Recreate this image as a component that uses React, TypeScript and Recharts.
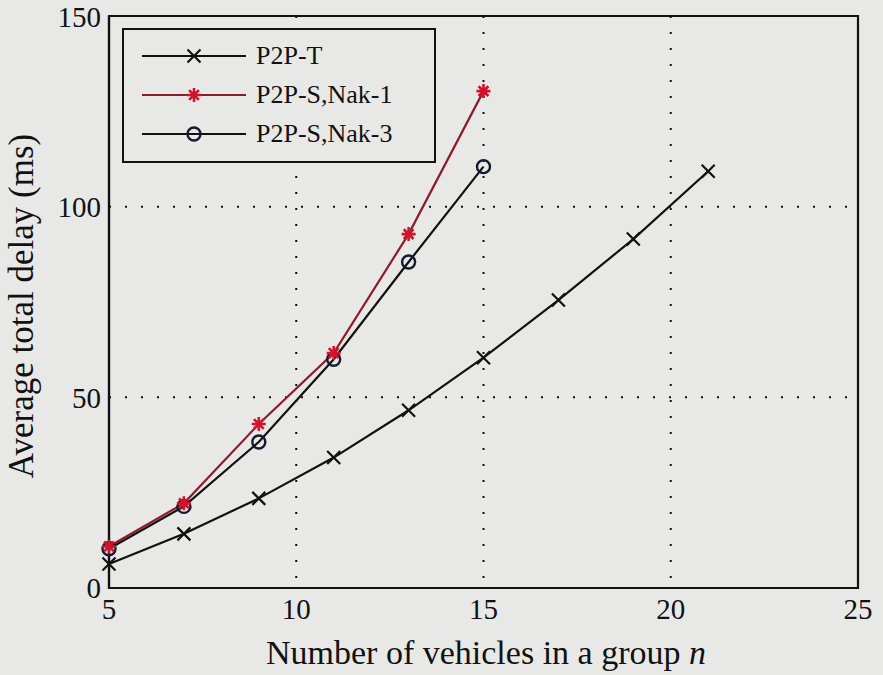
import {
  LineChart,
  Line,
  XAxis,
  YAxis,
  CartesianGrid,
  ReferenceArea,
} from 'recharts';

const groupSizes = [5, 7, 9, 11, 13, 15, 17, 19, 21];
const p2pT = [6.3, 14.2, 23.5, 34.2, 46.6, 60.4, 75.5, 91.5, 109.3];
const p2pSNak1 = [10.9, 22.2, 43.0, 61.6, 92.8, 130.3];
const p2pSNak3 = [10.3, 21.4, 38.3, 60.0, 85.5, 110.5];
const xTicks = [5, 10, 15, 20, 25];
const yTicks = [0, 50, 100, 150];

const data = groupSizes.map((n, i) => ({
  n,
  t: p2pT[i],
  nak1: p2pSNak1[i],
  nak3: p2pSNak3[i],
}));

const BG = '#e8e9e7';
const INK = '#111';
const NAK1_LINE = '#8e1b2c';
const NAK1_MARK = '#d0142c';

const CrossDot = (props: any) => {
  const { cx, cy } = props;
  if (cx == null || cy == null || props.value == null) return null;
  const s = 6.5;
  return (
    <path
      d={`M${cx - s},${cy - s}L${cx + s},${cy + s}M${cx - s},${cy + s}L${cx + s},${cy - s}`}
      stroke={INK}
      strokeWidth={2.2}
    />
  );
};

const StarDot = (props: any) => {
  const { cx, cy } = props;
  if (cx == null || cy == null || props.value == null) return null;
  const s = 7;
  const d = s * 0.7;
  return (
    <path
      d={`M${cx - s},${cy}L${cx + s},${cy}M${cx},${cy - s}L${cx},${cy + s}M${cx - d},${cy - d}L${cx + d},${cy + d}M${cx - d},${cy + d}L${cx + d},${cy - d}`}
      stroke={NAK1_MARK}
      strokeWidth={2.6}
    />
  );
};

const CircleDot = (props: any) => {
  const { cx, cy } = props;
  if (cx == null || cy == null || props.value == null) return null;
  return <circle cx={cx} cy={cy} r={6.5} fill="none" stroke="#151a2e" strokeWidth={2.4} />;
};

const legendItems = [
  { name: 'P2P-T', color: INK, Marker: CrossDot },
  { name: 'P2P-S,Nak-1', color: NAK1_LINE, Marker: StarDot },
  { name: 'P2P-S,Nak-3', color: INK, Marker: CircleDot },
];

// legend drawn as an overlay so it doesn't shrink the plot area
const LegendBox = () => (
  <div
    style={{
      position: 'absolute',
      left: 122,
      top: 28,
      width: 314,
      height: 135,
      border: '2px solid #111',
      boxSizing: 'border-box',
      background: BG,
      paddingTop: 6,
    }}
  >
    {legendItems.map(({ name, color, Marker }) => (
      <div key={name} style={{ display: 'flex', alignItems: 'center', height: 39 }}>
        <svg width={132} height={30}>
          <line x1={18} y1={15} x2={122} y2={15} stroke={color} strokeWidth={2.2} />
          <Marker cx={70} cy={15} value={1} />
        </svg>
        <span style={{ fontFamily: 'Liberation Serif', fontSize: 26, color: INK }}>{name}</span>
      </div>
    ))}
  </div>
);

const XLabel = () => (
  <text x={486} y={664} textAnchor="middle" fontFamily="Liberation Serif" fontSize={34} fill={INK}>
    Number of vehicles in a group <tspan fontStyle="italic">n</tspan>
  </text>
);

const YLabel = () => (
  <text
    x={0}
    y={0}
    transform="translate(33, 306) rotate(-90)"
    textAnchor="middle"
    fontFamily="Liberation Serif"
    fontSize={35}
    fill={INK}
  >
    Average total delay (ms)
  </text>
);

export default function App() {
  return (
    <div
      style={{
        position: 'absolute',
        left: 0,
        top: 0,
        width: 883,
        height: 675,
        background: BG,
        fontFamily: 'Liberation Serif',
      }}
    >
      <LineChart
        width={883}
        height={675}
        data={data}
        margin={{ top: 16, right: 25, left: 0, bottom: 0 }}
      >
        <CartesianGrid stroke={INK} strokeWidth={2} strokeDasharray="2 14" />
        <XAxis
          dataKey="n"
          type="number"
          domain={[5, 25]}
          ticks={xTicks}
          height={87}
          axisLine={{ stroke: INK, strokeWidth: 2.2 }}
          tickLine={false}
          tickMargin={4}
          tick={{ fontFamily: 'Liberation Serif', fontSize: 29, fill: INK }}
          label={<XLabel />}
        />
        <YAxis
          type="number"
          domain={[0, 150]}
          ticks={yTicks}
          width={109}
          axisLine={{ stroke: INK, strokeWidth: 2.2 }}
          tickLine={false}
          tickMargin={2}
          tick={{ fontFamily: 'Liberation Serif', fontSize: 29, fill: INK }}
          label={<YLabel />}
        />
        <ReferenceArea
          x1={5}
          x2={25}
          y1={0}
          y2={150}
          fill="none"
          stroke={INK}
          strokeWidth={2.2}
          ifOverflow="visible"
        />
        <Line
          dataKey="t"
          stroke={INK}
          strokeWidth={2.2}
          dot={<CrossDot />}
          activeDot={false}
          isAnimationActive={false}
        />
        <Line
          dataKey="nak3"
          stroke={INK}
          strokeWidth={2.2}
          dot={<CircleDot />}
          activeDot={false}
          isAnimationActive={false}
        />
        <Line
          dataKey="nak1"
          stroke={NAK1_LINE}
          strokeWidth={2.2}
          dot={<StarDot />}
          activeDot={false}
          isAnimationActive={false}
        />
      </LineChart>
      <LegendBox />
    </div>
  );
}
